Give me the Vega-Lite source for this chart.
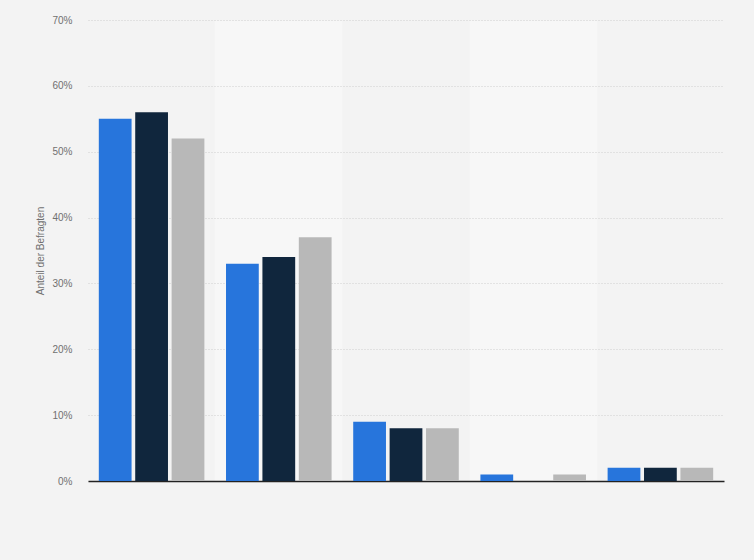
{
  "$schema": "https://vega.github.io/schema/vega-lite/v6.json",
  "width": 636,
  "height": 461,
  "autosize": "none",
  "padding": {"left": 88, "top": 20, "right": 30, "bottom": 79},
  "background": "#f3f3f3",
  "datasets": {
    "bars": [
      {"kategorie": "A", "serie": "1", "anteil": 55},
      {"kategorie": "A", "serie": "2", "anteil": 56},
      {"kategorie": "A", "serie": "3", "anteil": 52},
      {"kategorie": "B", "serie": "1", "anteil": 33},
      {"kategorie": "B", "serie": "2", "anteil": 34},
      {"kategorie": "B", "serie": "3", "anteil": 37},
      {"kategorie": "C", "serie": "1", "anteil": 9},
      {"kategorie": "C", "serie": "2", "anteil": 8},
      {"kategorie": "C", "serie": "3", "anteil": 8},
      {"kategorie": "D", "serie": "1", "anteil": 1},
      {"kategorie": "D", "serie": "2", "anteil": 0},
      {"kategorie": "D", "serie": "3", "anteil": 1},
      {"kategorie": "E", "serie": "1", "anteil": 2},
      {"kategorie": "E", "serie": "2", "anteil": 2},
      {"kategorie": "E", "serie": "3", "anteil": 2}
    ],
    "bands": [
      {"kategorie": "A"},
      {"kategorie": "B"},
      {"kategorie": "C"},
      {"kategorie": "D"},
      {"kategorie": "E"}
    ]
  },
  "layer": [
    {
      "data": {"name": "bands"},
      "mark": {"type": "rect", "opacity": 0},
      "encoding": {
        "x": {"field": "kategorie", "type": "nominal",
              "scale": {"domain": ["A", "B", "C", "D", "E"], "paddingInner": 0, "paddingOuter": 0},
              "axis": {"orient": "top", "zindex": 0, "labels": false, "ticks": false, "domain": false, "title": null,
                       "grid": true, "bandPosition": 0.5, "gridWidth": 127.2, "gridCap": "butt", "gridDash": [],
                       "gridColor": {"expr": "datum.value == 'B' || datum.value == 'D' ? '#f7f7f7' : 'transparent'"}}},
        "y": {"datum": 70, "type": "quantitative", "scale": {"domain": [0, 70]}},
        "y2": {"datum": 0}
      }
    },
    {
      "data": {"name": "bars"},
      "mark": {"type": "bar", "stroke": null},
      "encoding": {
        "x": {"field": "kategorie", "type": "nominal",
              "scale": {"paddingInner": 0.17, "paddingOuter": 0.085},
              "axis": {"orient": "bottom", "zindex": 0, "labels": false, "ticks": false, "title": null, "grid": false,
                       "domainColor": "#222222", "domainWidth": 1.5}},
        "xOffset": {"field": "serie", "type": "nominal", "scale": {"paddingInner": 0.1}},
        "y": {"field": "anteil", "type": "quantitative",
              "scale": {"domain": [0, 70]},
              "axis": {"title": "Anteil der Befragten", "values": [0, 10, 20, 30, 40, 50, 60, 70], "zindex": 0,
                       "labelExpr": "datum.value + '%'", "domain": false, "ticks": false, "grid": true,
                       "labelPadding": 16, "titlePadding": 6, "gridDash": [1, 2], "gridColor": "#cfcfcf",
                       "labelColor": "#707070", "titleColor": "#707070", "labelFontSize": 10,
                       "titleFontSize": 10, "titleFontWeight": "normal"}},
        "color": {"field": "serie", "type": "nominal", "legend": null,
                  "scale": {"domain": ["1", "2", "3"], "range": ["#2775dc", "#10263d", "#b8b8b8"]}}
      }
    }
  ],
  "resolve": {"scale": {"x": "independent"}},
  "config": {
    "view": {"stroke": null},
    "font": "Arial, Liberation Sans, sans-serif"
  }
}
